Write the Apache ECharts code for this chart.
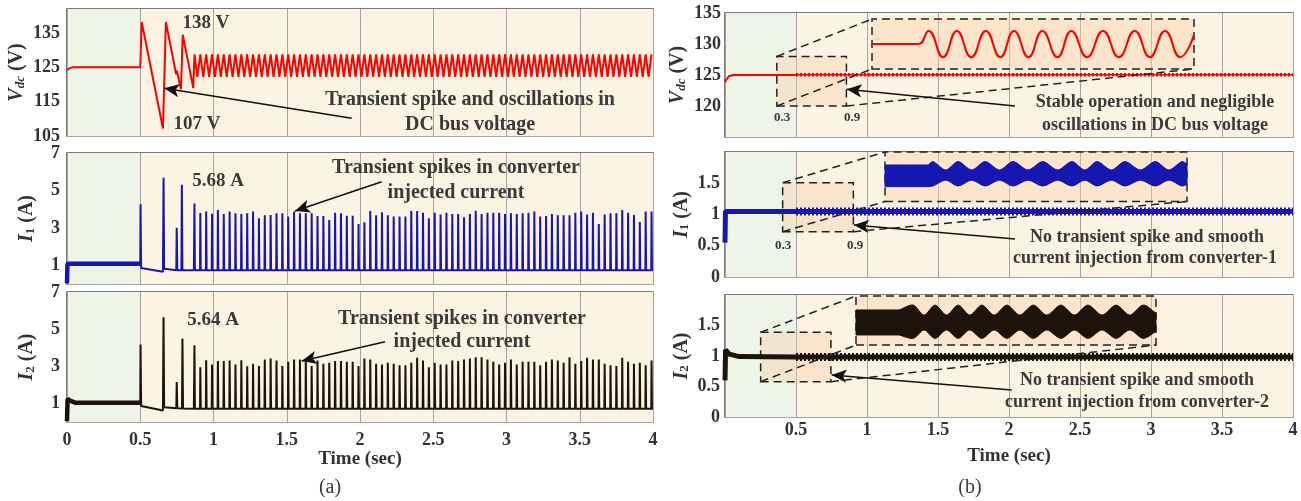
<!DOCTYPE html>
<html><head><meta charset="utf-8">
<script src="https://cdn.jsdelivr.net/npm/echarts@6/dist/echarts.min.js"></script>
<style>html,body{margin:0;padding:0;background:#fff}#c{width:1301px;height:501px}</style>
</head><body><div id="c"></div>
<script>
// ---------------- DATA ----------------
// tick labels
const xTicksA = [0,0.5,1,1.5,2,2.5,3,3.5,4];
const xTicksB = [0.5,1,1.5,2,2.5,3,3.5,4];
const yTicksVdcA = [105,115,125,135];
const yTicksIA = [1,3,5,7];
const yTicksVdcB = [120,125,130,135];
const yTicksIB = [0,0.5,1,1.5];

// (a) periodic spikes / oscillation instants (sec)
const spikeT = [0.87,0.91,0.95,0.99,1.03,1.07,1.11,1.15,1.19,1.23,
1.27,1.31,1.35,1.39,1.43,1.47,1.51,1.55,1.59,1.63,
1.67,1.71,1.75,1.79,1.83,1.87,1.91,1.95,1.99,2.03,
2.07,2.11,2.15,2.19,2.23,2.27,2.31,2.35,2.39,2.43,
2.47,2.51,2.55,2.59,2.63,2.67,2.71,2.75,2.79,2.83,
2.87,2.91,2.95,2.99,3.03,3.07,3.11,3.15,3.19,3.23,
3.27,3.31,3.35,3.39,3.43,3.47,3.51,3.55,3.59,3.63,
3.67,3.71,3.75,3.79,3.83,3.87,3.91,3.95,3.99];
const vdcTroughT = [0.89,0.93,0.97,1.01,1.05,1.09,1.13,1.17,1.21,1.25,
1.29,1.33,1.37,1.41,1.45,1.49,1.53,1.57,1.61,1.65,
1.69,1.73,1.77,1.81,1.85,1.89,1.93,1.97,2.01,2.05,
2.09,2.13,2.17,2.21,2.25,2.29,2.33,2.37,2.41,2.45,
2.49,2.53,2.57,2.61,2.65,2.69,2.73,2.77,2.81,2.85,
2.89,2.93,2.97,3.01,3.05,3.09,3.13,3.17,3.21,3.25,
3.29,3.33,3.37,3.41,3.45,3.49,3.53,3.57,3.61,3.65,
3.69,3.73,3.77,3.81,3.85,3.89,3.93,3.97];
const vdcOscHigh = 128.8;
const vdcOscLow = 122.2;
const vdcTransientA = [[0,124.2],[0.008,123.9],[0.02,124.8],[0.04,125],[0.5,125],[0.51,138.2],[0.655,107.2],[0.675,138.2],[0.745,123],[0.75,124],[0.778,118.6],[0.79,134.5],[0.862,119]];

const i1SpikeA = [4.30,3.80,3.87,3.76,3.96,3.74,3.87,3.78,3.74,3.78,
3.87,3.51,3.67,3.69,3.78,3.78,3.60,3.87,3.78,3.78,
3.78,3.63,3.63,3.42,3.81,3.78,3.65,3.65,3.20,3.30,
3.90,3.67,3.83,3.67,3.60,3.60,3.60,3.90,3.90,3.81,
3.51,3.81,3.71,3.81,3.74,3.74,3.56,3.74,3.92,3.74,
3.81,3.81,3.81,3.74,3.78,3.74,3.78,3.81,3.87,3.60,
3.63,3.74,3.67,3.67,3.67,3.81,3.87,3.71,3.81,3.20,
3.71,3.78,3.78,3.96,3.81,3.69,3.31,3.87,3.87];
const i1BaseA = 0.73;
const i1PreA = [[0,0.03],[0.003,1.08],[0.5,1.08]];
const i1TransientA = [[0.5,1.08],[0.502,4.26],[0.506,0.86],[0.655,0.65],[0.659,5.68],[0.663,0.82],[0.746,0.74],[0.749,3.0],[0.753,0.74],[0.781,0.73],[0.784,5.3],[0.788,0.74],[0.866,0.73]];

const i2SpikeA = [4.13,2.95,3.33,3.10,3.28,3.28,3.31,3.10,3.33,3.00,
3.13,3.01,3.37,3.42,3.31,3.01,3.24,3.37,3.37,3.31,
3.01,3.31,3.13,3.19,3.28,3.28,3.24,3.24,3.01,3.42,
3.37,3.13,3.10,3.19,3.13,3.06,3.06,3.19,3.46,3.31,
2.95,3.19,3.10,3.10,3.31,3.28,3.37,3.42,3.49,3.49,
3.37,3.24,3.10,3.19,3.37,3.10,3.24,3.24,3.24,3.06,
3.24,3.37,3.31,3.19,3.49,3.13,3.28,3.46,3.37,3.37,
3.13,3.06,3.01,3.46,3.24,3.13,3.19,3.06,3.31];
const i2BaseA = 0.72;
const i2PreA = [[0,0.05],[0.004,1.25],[0.02,1.15],[0.06,1.03],[0.5,1.03]];
const i2TransientA = [[0.5,1.03],[0.502,4.17],[0.506,0.86],[0.655,0.62],[0.659,5.64],[0.663,0.8],[0.746,0.74],[0.749,2.15],[0.753,0.74],[0.785,0.73],[0.788,4.48],[0.792,0.73],[0.866,0.72]];

// (b) main traces
const vdcPreB = [[0,123.8],[0.01,124.3],[0.03,124.85],[0.06,125],[0.5,125]];
const vdcRippleB = [[0.5,125.05],[4,125.05]];
const i1PreB = [[0,0.55],[0.003,1.05],[0.5,1.05]];
const i1RippleB = [[0.5,1.05],[4,1.05]];
const i2PreB = [[0,0.6],[0.004,1.1],[0.03,1.03],[0.1,0.99],[0.5,0.985]];
const i2RippleB = [[0.5,0.985],[4,0.985]];

// (b) zoomed insets (0.433 - 0.9 s)
const insVdcT = [0.433,0.5,0.515,0.536,0.556,0.577,0.598,0.619,0.639,0.66,0.68,0.702,0.722,0.745,0.768,0.791,0.814,0.836,0.858,0.88,0.9];
const insVdcV = [125.1,125.1,125.31,124.89,125.31,124.89,125.31,124.89,125.31,124.89,125.31,124.89,125.31,124.89,125.31,124.89,125.31,124.89,125.31,124.89,125.25];
const insI1T = [0.433,0.5,0.507,0.527,0.546,0.567,0.588,0.61,0.631,0.654,0.677,0.70,0.722,0.742,0.761,0.783,0.804,0.828,0.851,0.872,0.892,0.9];
const insI1Up = [1.068,1.068,1.079,1.052,1.079,1.052,1.079,1.052,1.079,1.052,1.079,1.052,1.079,1.052,1.079,1.052,1.079,1.052,1.079,1.052,1.079,1.072];
const insI1Lo = [0.998,0.998,1.0,1.019,1.0,1.019,1.0,1.019,1.0,1.019,1.0,1.019,1.0,1.019,1.0,1.019,1.0,1.019,1.0,1.019,1.0,1.005];
const insI2T = [0.433,0.5,0.522,0.539,0.556,0.574,0.592,0.61,0.629,0.648,0.668,0.688,0.709,0.73,0.752,0.773,0.794,0.816,0.838,0.859,0.88,0.9];
const insI2Up = [1.043,1.043,1.063,1.022,1.063,1.022,1.063,1.022,1.063,1.022,1.063,1.022,1.063,1.022,1.063,1.022,1.063,1.022,1.063,1.022,1.063,1.03];
const insI2Lo = [0.941,0.941,0.927,0.961,0.927,0.961,0.927,0.961,0.927,0.961,0.927,0.961,0.927,0.961,0.927,0.961,0.927,0.961,0.927,0.961,0.927,0.955];

// annotation geometry in data units
const srcBoxVdcB = [[0.365,120],[0.855,128]];
const srcBoxI1B = [[0.406,0.725],[0.904,1.509]];
const srcBoxI2B = [[0.251,0.579],[0.746,1.389]];
const linksVdcB = [[[0.365,128],[1.035,134.03]],[[0.365,120],[1.035,125.97]],[[0.855,120],[3.303,125.97]]];
const linksI1B = [[[0.406,1.509],[1.127,2.0]],[[0.406,0.725],[1.127,1.208]],[[0.904,0.725],[3.254,1.208]]];
const linksI2B = [[[0.251,1.389],[0.923,1.984]],[[0.251,0.579],[0.923,1.180]],[[0.746,0.579],[3.035,1.180]]];
const arrowVdcA = [[1.943,110.15],[0.664,118.9]];
const arrowI1A = [[2.148,5.466],[1.556,3.901]];
const arrowI2A = [[2.171,4.324],[1.602,3.285]];
const arrowVdcB = [[2.042,120.0],[0.857,122.69]];
const arrowI1B = [[2.042,0.608],[0.908,0.832]];
const arrowI2B = [[2.019,0.443],[0.751,0.689]];

// ---------------- BUILD ----------------
const FONT = '"Liberation Serif", "Times New Roman", serif';
const GREEN = '#eef5e6', CREAM = '#fdf3e2';
const TXT = '#333333';
const RED = '#ff0000', BLUE = '#1616b0', DARK = '#1d130a';

function spikeTrain(times, peaks, base){
  const out = [];
  times.forEach((t,i)=>{ out.push([t-0.002, base],[t, peaks[i]],[t+0.003, base]); });
  out.push([4, base]);
  return out;
}
const vdcOscA = [];
spikeT.forEach((t,i)=>{ vdcOscA.push([t, vdcOscHigh]); if (i < vdcTroughT.length) vdcOscA.push([vdcTroughT[i], vdcOscLow]); });
const vdcA = vdcTransientA.concat(vdcOscA);
const i1A = i1TransientA.concat(spikeTrain(spikeT, i1SpikeA, i1BaseA));
const i2A = i2TransientA.concat(spikeTrain(spikeT, i2SpikeA, i2BaseA));

function grid(left, top, width, height, show){
  return {left, top, width, height, show, borderColor:'#4d4d4d', borderWidth:1.5, backgroundColor:'transparent', containLabel:false, outerBoundsMode:'none'};
}
const grids = [
  grid(67,9,586,127,true), grid(67,153,586,131,true), grid(67,292,586,130,true),
  grid(725,13,568,124,true), grid(725,152,568,125,true), grid(725,295,568,122,true),
  grid(872,19,322,50,false), grid(885,152,302,49.5,false), grid(856,296,300,49,false)
];

function mainX(gi, ticks, showLabels, margin, nameGap){
  return {type:'value', gridIndex:gi, min:0, max:4, interval:0.5,
    axisLine:{show:false}, axisTick:{show:false},
    splitLine:{show:true, lineStyle:{color:'#a4a4a4', width:1}},
    splitArea:{show:true, areaStyle:{color:[GREEN,CREAM,CREAM,CREAM,CREAM,CREAM,CREAM,CREAM]}},
    axisLabel:{show:showLabels, margin, fontFamily:FONT, fontWeight:'bold', fontSize:18, color:TXT,
      formatter: v => ticks.includes(v) ? String(v) : ''},
    name: showLabels ? 'Time (sec)' : '', nameLocation:'middle', nameGap,
    nameTextStyle:{fontFamily:FONT, fontWeight:'bold', fontSize:19, color:TXT}};
}
const richName = {
  it:{fontFamily:FONT, fontWeight:'bold', fontStyle:'italic', fontSize:20, color:TXT, lineHeight:24, verticalAlign:'middle'},
  sub:{fontFamily:FONT, fontWeight:'bold', fontStyle:'italic', fontSize:13, color:TXT, lineHeight:24, verticalAlign:'bottom', padding:[0,0,2,0]},
  subn:{fontFamily:FONT, fontWeight:'bold', fontSize:13, color:TXT, lineHeight:24, verticalAlign:'bottom', padding:[0,0,2,0]},
  n:{fontFamily:FONT, fontWeight:'bold', fontSize:20, color:TXT, lineHeight:24, verticalAlign:'middle'}
};
function mainY(gi, min, max, interval, ticks, name, nameGap, margin){
  return {type:'value', gridIndex:gi, min, max, interval,
    axisLine:{show:false}, axisTick:{show:false},
    splitLine:{show:true, lineStyle:{color:'#a4a4a4', width:1}},
    axisLabel:{margin, fontFamily:FONT, fontWeight:'bold', fontSize:18, color:TXT,
      formatter: v => ticks.includes(v) ? String(v) : ''},
    name, nameLocation:'middle', nameRotate:90, nameGap,
    nameTextStyle:{rich:richName}};
}
function insetAxisX(gi){ return {type:'value', gridIndex:gi, min:0.433, max:0.9, show:false, splitLine:{show:false}}; }
function insetAxisY(gi, min, max){ return {type:'value', gridIndex:gi, min, max, show:false, splitLine:{show:false}}; }

const xAxes = [
  mainX(0,xTicksA,false,9,24), mainX(1,xTicksA,false,9,24), mainX(2,xTicksA,true,9,24),
  mainX(3,xTicksB,false,4,30), mainX(4,xTicksB,false,4,30), mainX(5,xTicksB,true,4,30),
  insetAxisX(6), insetAxisX(7), insetAxisX(8)
];
const yAxes = [
  mainY(0,105,142,5,yTicksVdcA,'{it|V}{sub|dc}{n| (V)}',36,7),
  mainY(1,0,7,1,yTicksIA,'{it|I}{subn|1}{n| (A)}',28,7),
  mainY(2,0,7,1,yTicksIA,'{it|I}{subn|2}{n| (A)}',28,7),
  mainY(3,115,135,5,yTicksVdcB,'{it|V}{sub|dc}{n| (V)}',30,4),
  mainY(4,0,2,0.5,yTicksIB,'{it|I}{subn|1}{n| (A)}',27,5),
  mainY(5,0,2,0.5,yTicksIB,'{it|I}{subn|2}{n| (A)}',27,5),
  insetAxisY(6,124.7,125.5), insetAxisY(7,0.95,1.11), insetAxisY(8,0.9,1.1)
];

function line(idx, data, color, width, extra){
  return Object.assign({type:'line', xAxisIndex:idx, yAxisIndex:idx, data, showSymbol:false, symbol:'none',
    silent:true, animation:false, z:3, lineStyle:{color, width}}, extra||{});
}
function arrowSeries(idx, a){
  return {type:'line', xAxisIndex:idx, yAxisIndex:idx, data:[], silent:true, animation:false, z:6,
    markLine:{silent:true, animation:false, symbol:['none','arrow'], symbolSize:[10,15], label:{show:false},
      lineStyle:{color:'#111', width:1.6, type:'solid'}, data:[[{coord:a[0]},{coord:a[1]}]]}};
}
function zoomSeries(idx, box, links){
  return {type:'line', xAxisIndex:idx, yAxisIndex:idx, data:[], silent:true, animation:false, z:5,
    markLine:{silent:true, animation:false, symbol:['none','none'], label:{show:false},
      lineStyle:{color:'#222', width:1.5, type:[8,5]},
      data: links.map(l => [{coord:l[0]},{coord:l[1]}])},
    markArea:{silent:true, itemStyle:{color:'rgba(247,205,165,0.38)', borderColor:'#222', borderWidth:1.5, borderType:[8,5]},
      data:[[{coord:box[0]},{coord:box[1]}]]}};
}
function insetFrame(idx, xmin, xmax, ymin, ymax){
  return {type:'line', xAxisIndex:idx, yAxisIndex:idx, data:[], silent:true, animation:false, z:2,
    markArea:{silent:true, itemStyle:{color:'rgba(250,210,170,0.42)', borderColor:'#222', borderWidth:1.5, borderType:[8,5]},
      data:[[{coord:[xmin,ymin]},{coord:[xmax,ymax]}]]}};
}
// filled envelope (upper/lower) drawn through the inset's own axes
function band(idx, t, lo, up, color){
  const sharp = i => (i === 0 || i === 1 || i === t.length - 1);
  return {type:'custom', xAxisIndex:idx, yAxisIndex:idx, data:[[t[1], lo[1]]], silent:true, animation:false, z:3,
    renderItem: (params, api) => {
      const pts = [];
      for (let i = 0; i < t.length; i++) { const p = api.coord([t[i], up[i]]); pts.push(p); if (sharp(i)) pts.push(p.slice()); }
      for (let i = t.length - 1; i >= 0; i--) { const p = api.coord([t[i], lo[i]]); pts.push(p); if (sharp(i)) pts.push(p.slice()); }
      return {type:'polygon', shape:{points:pts, smooth:0.3}, style:{fill:color, stroke:color, lineWidth:1}};
    }};
}

const series = [
  // (a)
  line(0, vdcA, RED, 2),
  line(1, i1PreA, BLUE, 4.5), line(1, i1A, BLUE, 2),
  line(2, i2PreA, DARK, 4.5), line(2, i2A, DARK, 2),
  arrowSeries(0, arrowVdcA), arrowSeries(1, arrowI1A), arrowSeries(2, arrowI2A),
  // (b)
  line(3, vdcPreB, RED, 2), line(3, vdcRippleB, RED, 1.6), line(3, vdcRippleB, RED, 3.6, {lineStyle:{color:RED, width:3.6, type:[2,2]}}),
  line(4, i1PreB, BLUE, 5), line(4, i1RippleB, BLUE, 5), line(4, i1RippleB, BLUE, 8, {lineStyle:{color:BLUE, width:8, type:[2,2]}}),
  line(5, i2PreB, DARK, 5), line(5, i2RippleB, DARK, 5), line(5, i2RippleB, DARK, 8, {lineStyle:{color:DARK, width:8, type:[2,2]}}),
  zoomSeries(3, srcBoxVdcB, linksVdcB), zoomSeries(4, srcBoxI1B, linksI1B), zoomSeries(5, srcBoxI2B, linksI2B),
  arrowSeries(3, arrowVdcB), arrowSeries(4, arrowI1B), arrowSeries(5, arrowI2B),
  // insets
  insetFrame(6, 0.433, 0.9, 124.7, 125.5), insetFrame(7, 0.433, 0.9, 0.95, 1.11), insetFrame(8, 0.433, 0.9, 0.9, 1.1),
  line(6, insVdcT.map((t,i)=>[t, insVdcV[i]]), RED, 2, {smooth:0.5}),
  band(7, insI1T, insI1Lo, insI1Up, BLUE),
  band(8, insI2T, insI2Lo, insI2Up, DARK)
];

function txt(text, x, y, size, weight){
  return {type:'text', x, y, z:100, silent:true,
    style:{text, fill:'#3a3a3a', font:(weight||'bold')+' '+size+'px '+FONT, align:'center', verticalAlign:'middle', textAlign:'center', textVerticalAlign:'middle'}};
}
const graphic = [
  txt('138 V', 206, 23, 19), txt('107 V', 197, 124, 19),
  txt('Transient spike and oscillations in', 470, 100, 20), txt('DC bus voltage', 470, 125, 20),
  txt('5.68 A', 218, 181, 19),
  txt('Transient spikes in converter', 456, 168, 20), txt('injected current', 456, 193, 20),
  txt('5.64 A', 213, 320, 19),
  txt('Transient spikes in converter', 462, 319, 20), txt('injected current', 462, 342, 20),
  txt('Stable operation and negligible', 1155, 102, 18), txt('oscillations in DC bus voltage', 1155, 125, 18),
  txt('No transient spike and smooth', 1147, 237, 18), txt('current injection from converter-1', 1145, 258, 18),
  txt('No transient spike and smooth', 1137, 380, 18), txt('current injection from converter-2', 1137, 402, 18),
  txt('0.3', 782, 118, 13), txt('0.9', 852, 118, 13),
  txt('0.3', 783, 246, 13), txt('0.9', 855, 246, 13),
  txt('(a)', 330, 488, 20, 'normal'), txt('(b)', 970, 488, 20, 'normal')
];

const chart = echarts.init(document.getElementById('c'), null, {renderer:'canvas'});
chart.setOption({animation:false, backgroundColor:'#ffffff', grid:grids, xAxis:xAxes, yAxis:yAxes, series, graphic});
</script></body></html>
